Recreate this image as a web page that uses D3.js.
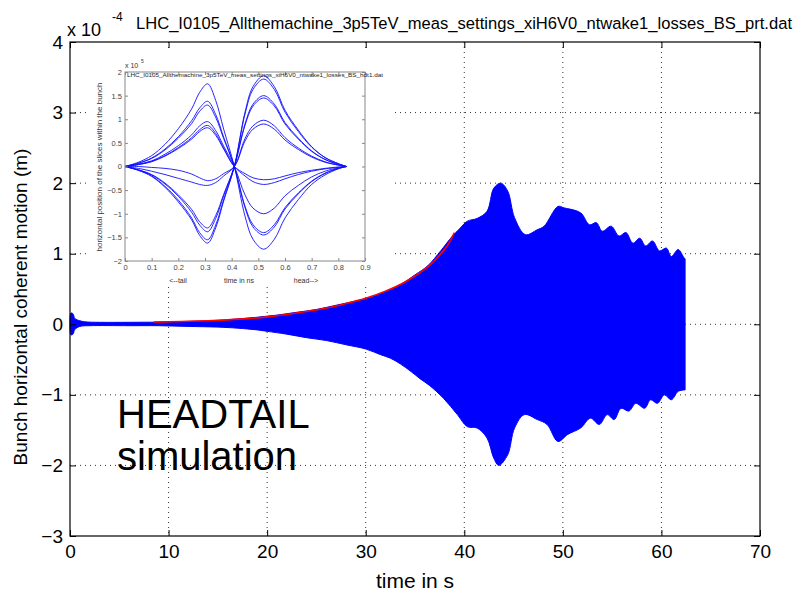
<!DOCTYPE html>
<html>
<head>
<meta charset="utf-8">
<script src="https://cdn.jsdelivr.net/npm/d3@7"></script>
<style>
  body { margin: 0; background: #fff; }
  text { font-family: "Liberation Sans", Arial, sans-serif; }
</style>
</head>
<body>
<div id="chart"></div>
<script>
// main plot: envelope of the bunch centroid oscillation (units of 1e-4 m)
var upperEdge = [[0,0],[0.1,0.16],[0.3,0.15],[0.5,0.08],[1,0.05],[1.5,0.035],[3,0.028],[6,0.028],[9,0.03],[12,0.04],[15,0.055],[17,0.075],[19,0.10],[21,0.13],[23,0.17],[25,0.21],[27,0.27],[29,0.33],[30.5,0.38],[32,0.46],[33.5,0.56],[35,0.70],[36.3,0.83],[37.6,1.04],[38.8,1.25],[39.5,1.35],[40.3,1.46],[41.3,1.50],[42.3,1.60],[43.0,1.93],[43.7,2.00],[44.4,1.89],[45.1,1.51],[46.2,1.27],[47.4,1.34],[48.1,1.39],[49.5,1.67],[50.1,1.65],[51.8,1.58],[52.7,1.41],[53.4,1.44],[54.0,1.32],[54.9,1.39],[55.7,1.25],[56.4,1.30],[57.1,1.15],[57.8,1.22],[58.4,1.11],[59.1,1.18],[59.8,1.04],[60.5,1.08],[61.0,0.96],[61.7,1.06],[62.3,0.94],[62.4,0.93]];
var lowerEdge = [[0,0],[0.1,-0.15],[0.3,-0.14],[0.5,-0.07],[1,-0.03],[2,-0.02],[6,-0.02],[9,-0.02],[12,-0.03],[15,-0.04],[17,-0.055],[19,-0.08],[20,-0.10],[22,-0.14],[24,-0.19],[26,-0.23],[28,-0.29],[30,-0.35],[31.5,-0.43],[32.5,-0.48],[33.5,-0.56],[34.6,-0.67],[35.5,-0.77],[36.5,-0.87],[37.9,-1.05],[39.3,-1.28],[40.3,-1.45],[41.3,-1.47],[42.3,-1.61],[43.0,-1.90],[43.5,-2.00],[44.4,-1.85],[45.1,-1.47],[46.1,-1.28],[47.4,-1.35],[48.4,-1.42],[49.5,-1.66],[50.5,-1.56],[51.8,-1.47],[52.8,-1.33],[53.7,-1.42],[54.5,-1.28],[55.2,-1.35],[55.9,-1.19],[56.7,-1.23],[57.4,-1.12],[58.3,-1.19],[58.9,-1.07],[59.6,-1.12],[60.3,-1.00],[61.0,-1.07],[61.7,-0.95],[62.4,-0.93]];
// exponential growth fit (red)
var fitCurve = [[8.5,0.032],[10,0.036],[12,0.042],[14,0.05],[16,0.063],[18,0.08],[20,0.105],[22,0.14],[24,0.18],[26,0.23],[28,0.295],[30,0.37],[32,0.47],[34,0.6],[36,0.78],[37.5,0.98],[38.3,1.12],[39.0,1.3]];

var xTicks = [0, 10, 20, 30, 40, 50, 60, 70];
var yTicks = [-3, -2, -1, 0, 1, 2, 3, 4];

// inset: slice positions along the bunch (units of 1e-5)
var insetTime = [0, .05, .1, .15, .2, .25, .28, .31, .34, .37, .41, .45, .48, .52, .56, .6, .65, .7, .75, .8, .83];
var insetCurves = [
  [0,.09,.23,.47,.8,1.22,1.57,1.75,1.4,.79,0,-1.05,-1.54,-1.75,-1.54,-1.09,-.7,-.38,-.18,-.05,0],
  [0,.07,.18,.37,.63,.97,1.24,1.38,1.1,.62,0,-.87,-1.28,-1.45,-1.28,-.9,-.58,-.32,-.15,-.04,0],
  [0,.07,.17,.35,.6,.91,1.17,1.3,1.04,.59,0,-.84,-1.23,-1.4,-1.23,-.87,-.56,-.31,-.14,-.04,0],
  [0,.05,.12,.26,.44,.67,.86,.95,.76,.43,0,-.6,-.88,-1.0,-.88,-.62,-.4,-.22,-.1,-.03,0],
  [0,.04,.11,.23,.4,.61,.78,.87,.7,.39,0,-.2,-.32,-.38,-.34,-.26,-.17,-.1,-.05,-.02,0],
  [0,.04,.1,.22,.38,.58,.74,.82,.66,.37,0,-.15,-.24,-.28,-.26,-.2,-.13,-.08,-.04,-.01,0],
  [0,-.08,-.21,-.44,-.75,-1.13,-1.46,-1.62,-1.3,-.73,0,1.15,1.69,1.92,1.69,1.19,.77,.42,.19,.06,0],
  [0,-.08,-.2,-.42,-.71,-1.09,-1.4,-1.55,-1.24,-.7,0,1.11,1.63,1.85,1.63,1.15,.74,.41,.19,.06,0],
  [0,-.07,-.18,-.37,-.63,-.97,-1.24,-1.38,-1.1,-.62,0,.9,1.32,1.5,1.32,.93,.6,.33,.15,.05,0],
  [0,-.07,-.17,-.35,-.6,-.91,-1.17,-1.3,-1.04,-.59,0,.87,1.28,1.45,1.28,.9,.58,.32,.15,.04,0],
  [0,-.04,-.1,-.17,-.25,-.33,-.38,-.4,-.34,-.2,0,.59,.86,.98,.86,.61,.39,.22,.1,.03,0],
  [0,0,-.02,-.04,-.08,-.16,-.24,-.3,-.26,-.15,0,.54,.79,.9,.79,.56,.36,.2,.09,.03,0]
];
var insetXTicks = [0, .1, .2, .3, .4, .5, .6, .7, .8, .9];
var insetYTicks = [-2, -1.5, -1, -0.5, 0, 0.5, 1, 1.5, 2];

var width = 804, height = 595;
var svg = d3.select("#chart").append("svg")
    .attr("width", width)
    .attr("height", height);

var x = d3.scaleLinear().domain([0, 70]).range([70, 760]);
var y = d3.scaleLinear().domain([-3, 4]).range([536, 42]);

// dotted grid
var grid = svg.append("g").attr("stroke", "#333").attr("stroke-dasharray", "1,4");
grid.selectAll(".gx").data(xTicks.slice(1, -1)).enter().append("line")
    .attr("x1", d => x(d)).attr("x2", d => x(d))
    .attr("y1", y(4)).attr("y2", y(-3));
grid.selectAll(".gy").data(yTicks.slice(1, -1)).enter().append("line")
    .attr("x1", x(0)).attr("x2", x(70))
    .attr("y1", d => y(d)).attr("y2", d => y(d));

// blue envelope
var edge = d3.line().x(d => x(d[0])).y(d => y(d[1])).curve(d3.curveCatmullRom.alpha(0.5));
var envPath = edge(upperEdge) + edge(lowerEdge.slice().reverse()).replace(/^M/, "L") + "Z";
svg.append("path")
    .attr("d", envPath)
    .attr("fill", "#0000ff")
    .attr("stroke", "#0000ff")
    .attr("stroke-width", 1);

svg.append("path")
    .datum(fitCurve)
    .attr("d", d3.line().x(d => x(d[0])).y(d => y(d[1])).curve(d3.curveCatmullRom))
    .attr("fill", "none")
    .attr("stroke", "#ff0000")
    .attr("stroke-width", 1.6);

// axes, ticks pointing inward on all sides
var fmt = d3.format("");
svg.append("g").attr("transform", "translate(0," + y(-3) + ")")
    .call(d3.axisBottom(x).tickValues(xTicks).tickSize(-6).tickPadding(9).tickFormat(fmt))
    .call(g => g.select(".domain").remove())
    .call(g => g.selectAll("text").attr("font-size", 19).attr("font-family", "Liberation Sans"));
svg.append("g").attr("transform", "translate(0," + y(4) + ")")
    .call(d3.axisTop(x).tickValues(xTicks).tickSize(-6).tickFormat(""))
    .call(g => g.select(".domain").remove());
svg.append("g").attr("transform", "translate(" + x(0) + ",0)")
    .call(d3.axisLeft(y).tickValues(yTicks).tickSize(-6).tickPadding(7).tickFormat(d3.format("")))
    .call(g => g.select(".domain").remove())
    .call(g => g.selectAll("text").attr("font-size", 19).attr("font-family", "Liberation Sans"));
svg.append("g").attr("transform", "translate(" + x(70) + ",0)")
    .call(d3.axisRight(y).tickValues(yTicks).tickSize(-6).tickFormat(""))
    .call(g => g.select(".domain").remove());

svg.append("rect")
    .attr("x", x(0)).attr("y", y(4))
    .attr("width", x(70) - x(0)).attr("height", y(-3) - y(4))
    .attr("fill", "none").attr("stroke", "#000").attr("stroke-width", 1.2);

// labels
svg.append("text")
    .attr("x", (x(0) + x(70)) / 2).attr("y", 588)
    .attr("text-anchor", "middle").attr("font-size", 21)
    .text("time in s");
svg.append("text")
    .attr("transform", "translate(27,307) rotate(-90)")
    .attr("text-anchor", "middle").attr("font-size", 19)
    .text("Bunch horizontal coherent motion (m)");
svg.append("text")
    .attr("x", 67).attr("y", 36).attr("font-size", 18)
    .text("x 10");
svg.append("text")
    .attr("x", 112).attr("y", 21).attr("font-size", 12)
    .text("-4");
svg.append("text")
    .attr("transform", "translate(136,29) scale(1,1.15)")
    .attr("font-size", 15)
    .attr("textLength", 656).attr("lengthAdjust", "spacingAndGlyphs")
    .text("LHC_I0105_Allthemachine_3p5TeV_meas_settings_xiH6V0_ntwake1_losses_BS_prt.dat");

svg.append("text").attr("x", 117).attr("y", 428).attr("font-size", 40).text("HEADTAIL");
svg.append("text").attr("x", 117).attr("y", 470).attr("font-size", 40).text("simulation");

// inset figure
var inset = svg.append("g");
inset.append("rect")
    .attr("x", 86).attr("y", 52).attr("width", 309).attr("height", 232)
    .attr("fill", "#fff");

var xi = d3.scaleLinear().domain([0, 0.9]).range([125, 365]);
var yi = d3.scaleLinear().domain([-2, 2]).range([261, 72]);

var curveLine = d3.line()
    .x((d, i) => xi(insetTime[i]))
    .y(d => yi(d))
    .curve(d3.curveCatmullRom.alpha(0.5));
inset.selectAll(".slice").data(insetCurves).enter().append("path")
    .attr("d", curveLine)
    .attr("fill", "none")
    .attr("stroke", "#1010ff")
    .attr("stroke-width", 1)
    .attr("opacity", 0.9);

var insetStyle = g => {
  g.select(".domain").remove();
  g.selectAll("line").attr("stroke", "#888");
  g.selectAll("text").attr("font-size", 7.5).attr("fill", "#444");
};
inset.append("g").attr("transform", "translate(0," + yi(-2) + ")")
    .call(d3.axisBottom(xi).tickValues(insetXTicks).tickSize(-3).tickPadding(4).tickFormat(d3.format("")))
    .call(insetStyle);
inset.append("g").attr("transform", "translate(0," + yi(2) + ")")
    .call(d3.axisTop(xi).tickValues(insetXTicks).tickSize(-3).tickFormat(""))
    .call(insetStyle);
inset.append("g").attr("transform", "translate(" + xi(0) + ",0)")
    .call(d3.axisLeft(yi).tickValues(insetYTicks).tickSize(-3).tickPadding(3).tickFormat(d3.format("")))
    .call(insetStyle);
inset.append("g").attr("transform", "translate(" + xi(0.9) + ",0)")
    .call(d3.axisRight(yi).tickValues(insetYTicks).tickSize(-3).tickFormat(""))
    .call(insetStyle);
inset.append("rect")
    .attr("x", xi(0)).attr("y", yi(2))
    .attr("width", xi(0.9) - xi(0)).attr("height", yi(-2) - yi(2))
    .attr("fill", "none").attr("stroke", "#888").attr("stroke-width", 1);

inset.append("text").attr("x", 178).attr("y", 283).attr("text-anchor", "middle")
    .attr("font-size", 7).attr("fill", "#333").text("<--tail");
inset.append("text").attr("x", 239).attr("y", 283).attr("text-anchor", "middle")
    .attr("font-size", 7).attr("fill", "#333").text("time in ns");
inset.append("text").attr("x", 306).attr("y", 283).attr("text-anchor", "middle")
    .attr("font-size", 7).attr("fill", "#333").text("head-->");
inset.append("text")
    .attr("transform", "translate(102,167) rotate(-90)")
    .attr("text-anchor", "middle").attr("font-size", 7.5).attr("fill", "#333")
    .attr("textLength", 169).attr("lengthAdjust", "spacingAndGlyphs")
    .text("horizontal position of the slices within the bunch");
inset.append("text").attr("x", 125).attr("y", 68).attr("font-size", 7).attr("fill", "#333").text("x 10");
inset.append("text").attr("x", 141).attr("y", 63).attr("font-size", 5).attr("fill", "#333").text("5");
inset.append("text")
    .attr("x", 127).attr("y", 77).attr("font-size", 5.5).attr("fill", "#222")
    .attr("font-family", "DejaVu Sans Mono")
    .attr("textLength", 256).attr("lengthAdjust", "spacingAndGlyphs")
    .text("LHC_I0105_Allthemachine_3p5TeV_meas_settings_xiH6V0_ntwake1_losses_BS_hdt1.dat");
</script>
</body>
</html>
